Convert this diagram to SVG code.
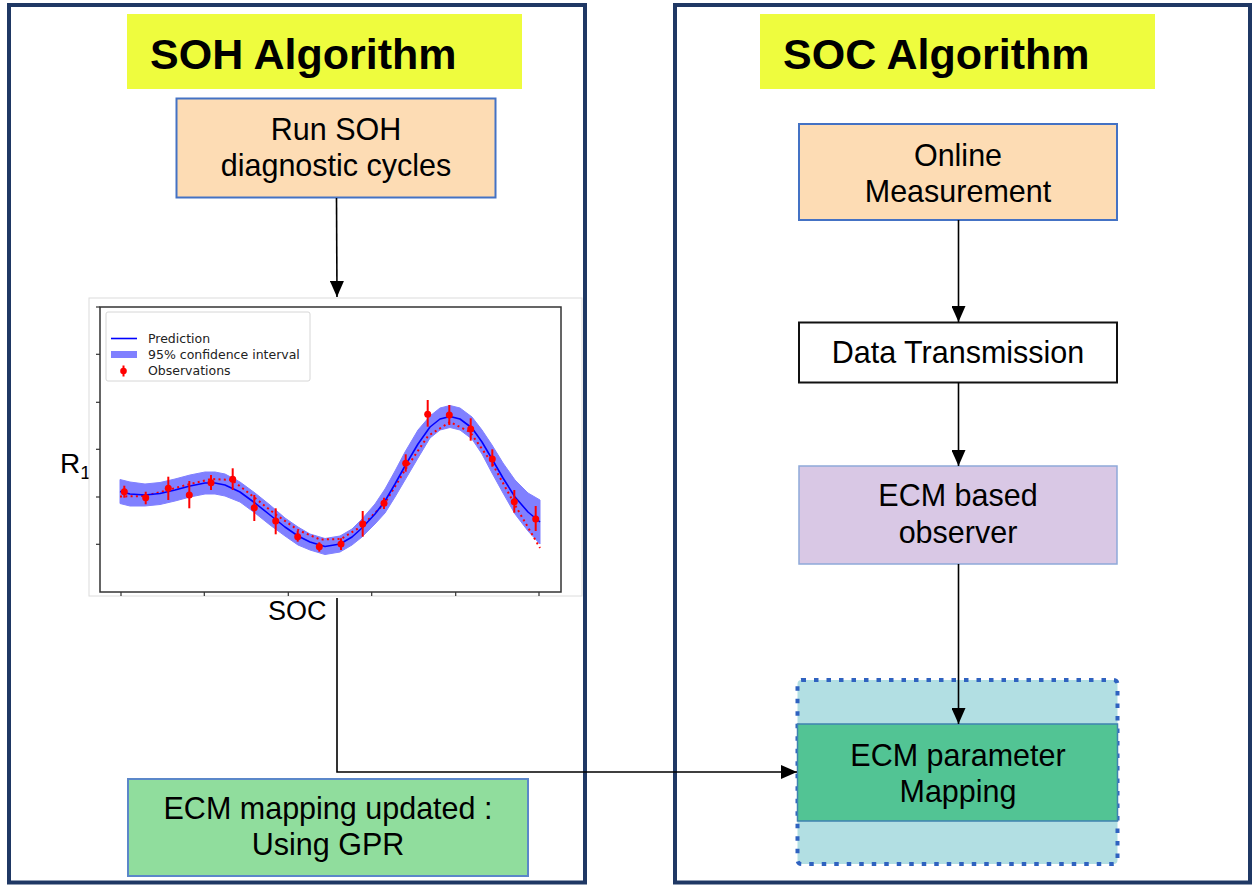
<svg xmlns="http://www.w3.org/2000/svg" width="1252" height="885" viewBox="0 0 1252 885">
  <defs>
    <marker id="arrow" markerUnits="userSpaceOnUse" markerWidth="16" markerHeight="14" refX="16" refY="7" orient="auto">
      <path d="M0,0 L16,7 L0,14 z" fill="#000"/>
    </marker>
    <style>
      .panel { fill: #ffffff; stroke: #1f3864; stroke-width: 4; }
      .title-bg { fill: #eefc3e; }
      .title { font-family: "Liberation Sans", Arial, sans-serif; font-weight: bold; font-size: 43px; fill: #000; }
      .lbl { font-family: "Liberation Sans", Arial, sans-serif; font-size: 30.5px; fill: #000; text-anchor: middle; }
      .peach { fill: #fddcb4; stroke: #4472c4; stroke-width: 2; }
      .plain { fill: #ffffff; stroke: #111; stroke-width: 2; }
      .lavender { fill: #d9c8e5; stroke: #8ea9d9; stroke-width: 1.5; }
      .green { fill: #90dd9d; stroke: #5b87c9; stroke-width: 2; }
      .conn { fill: none; stroke: #000; stroke-width: 1.6; }
      .spine { fill: none; stroke: #333; stroke-width: 1.5; }
      .tick { stroke: #333; stroke-width: 1.2; }
      .leg { font-family: "DejaVu Sans", sans-serif; font-size: 12.5px; fill: #222; }
      .err { stroke: #ff0000; stroke-width: 2; }
      .obs { fill: #ff0000; }
    </style>
  </defs>

  <!-- Panels -->
  <g id="soh-panel">
    <rect class="panel" x="9" y="5" width="576" height="877.5"/>
    <rect class="title-bg" x="127" y="14" width="395" height="75"/>
    <text class="title" x="150" y="69">SOH Algorithm</text>
  </g>
  <g id="soc-panel">
    <rect class="panel" x="675" y="5" width="575" height="877.5"/>
    <rect class="title-bg" x="760" y="14" width="395" height="75"/>
    <text class="title" x="783" y="69">SOC Algorithm</text>
  </g>

  <!-- SOH side nodes -->
  <g id="run-soh">
    <rect class="peach" x="176.5" y="98.5" width="319" height="99"/>
    <text class="lbl" x="336" y="140">Run SOH</text>
    <text class="lbl" x="336" y="176">diagnostic cycles</text>
  </g>

  <g id="gpr-plot">
    <text font-family="Liberation Sans, Arial, sans-serif" font-size="28" x="60" y="473">R<tspan font-size="19" dy="6">1</tspan></text>
    <rect x="89" y="298" width="493" height="298" fill="#ffffff" stroke="#dcdcdc" stroke-width="1"/>
    <!-- axes -->
    <rect class="spine" x="100" y="307" width="461" height="285"/>
    <g class="tick">
      <line x1="96" y1="307" x2="100" y2="307"/>
      <line x1="96" y1="354.3" x2="100" y2="354.3"/>
      <line x1="96" y1="402.3" x2="100" y2="402.3"/>
      <line x1="96" y1="449.3" x2="100" y2="449.3"/>
      <line x1="96" y1="497" x2="100" y2="497"/>
      <line x1="96" y1="544.3" x2="100" y2="544.3"/>
      <line x1="121" y1="592" x2="121" y2="596"/>
      <line x1="204.3" y1="592" x2="204.3" y2="596"/>
      <line x1="288.3" y1="592" x2="288.3" y2="596"/>
      <line x1="371.7" y1="592" x2="371.7" y2="596"/>
      <line x1="455.7" y1="592" x2="455.7" y2="596"/>
      <line x1="539" y1="592" x2="539" y2="596"/>
    </g>
    <!-- 95% confidence band -->
    <polygon fill="#8080ff" stroke="#8080ff" stroke-width="1" stroke-linejoin="round" points="120,479.5 130,482 145,484 160,482.5 175,479 190,475 205,472 215,472 225,474 240,482 255,493 270,505 285,518 298,527 310,534 325,538.5 340,536 352,529 362,519 375,504 385,489 395,471 405,452 418,430 430,416 440,408 450,405.5 460,408 472,417 482,430 492,445 503,463 515,480 528,493 540,500 540,544 528,531 515,514 503,493 492,473 482,454 472,439 460,430 450,427.5 440,430 430,438 418,458 405,480 395,497 385,513 375,524 362,537 352,545 340,552 325,554.5 310,550 298,545 285,536 270,525 255,513 240,502 225,496 215,494 205,494 190,497 175,501 160,504.5 145,506 130,506 120,503.5"/>
    <!-- true function (dotted) -->
    <polyline fill="none" stroke="#ff0000" stroke-width="2" stroke-dasharray="2 3.3" stroke-linejoin="round" points="120,496.5 145,496 168,490 190,484 211,479 232,480 255,498 275,514 298,530 320,539.5 341,539 362,526 385,503 405,470 428,436 450,422 470,432 492,463 515,505 540,548"/>
    <!-- prediction mean -->
    <polyline fill="none" stroke="#0000ff" stroke-width="1.6" stroke-linejoin="round" points="120,491.5 130,494 145,495 160,493.5 175,490 190,486 205,483 215,483 225,485 240,492 255,503 270,515 285,527 298,536 310,542 325,546.5 340,544 352,537 362,528 375,514 385,501 395,484 405,466 418,444 430,427 440,419 450,416.5 460,419 472,428 482,442 492,459 503,478 515,497 528,512 540,522"/>
    <!-- observations with error bars -->
    <g class="err">
      <line x1="124.3" y1="485.7" x2="124.3" y2="497.7"/>
      <line x1="145.7" y1="491.7" x2="145.7" y2="504.3"/>
      <line x1="168.3" y1="476.7" x2="168.3" y2="500"/>
      <line x1="189.3" y1="481" x2="189.3" y2="508.3"/>
      <line x1="211" y1="475" x2="211" y2="490"/>
      <line x1="232.7" y1="468.3" x2="232.7" y2="490"/>
      <line x1="254.3" y1="495" x2="254.3" y2="521"/>
      <line x1="275.7" y1="508.3" x2="275.7" y2="534.3"/>
      <line x1="297.7" y1="531" x2="297.7" y2="541.7"/>
      <line x1="319.3" y1="542.3" x2="319.3" y2="551.7"/>
      <line x1="341" y1="538.3" x2="341" y2="550"/>
      <line x1="362.7" y1="511" x2="362.7" y2="536.7"/>
      <line x1="384" y1="497.7" x2="384" y2="509"/>
      <line x1="405.7" y1="454.3" x2="405.7" y2="471.7"/>
      <line x1="427.7" y1="400" x2="427.7" y2="426.7"/>
      <line x1="449.3" y1="405" x2="449.3" y2="425"/>
      <line x1="470.7" y1="418.3" x2="470.7" y2="440.7"/>
      <line x1="492.3" y1="449.3" x2="492.3" y2="466.7"/>
      <line x1="514.3" y1="490" x2="514.3" y2="512.7"/>
      <line x1="535.7" y1="506" x2="535.7" y2="531"/>
    </g>
    <g class="obs">
      <circle cx="124.3" cy="491.7" r="3.5"/>
      <circle cx="145.7" cy="497.7" r="3.5"/>
      <circle cx="168.3" cy="488.3" r="3.5"/>
      <circle cx="189.3" cy="495" r="3.5"/>
      <circle cx="211" cy="482.7" r="3.5"/>
      <circle cx="232.7" cy="479.3" r="3.5"/>
      <circle cx="254.3" cy="507.7" r="3.5"/>
      <circle cx="275.7" cy="521" r="3.5"/>
      <circle cx="297.7" cy="536.7" r="3.5"/>
      <circle cx="319.3" cy="546.7" r="3.5"/>
      <circle cx="341" cy="544" r="3.5"/>
      <circle cx="362.7" cy="524" r="3.5"/>
      <circle cx="384" cy="503.3" r="3.5"/>
      <circle cx="405.7" cy="463.3" r="3.5"/>
      <circle cx="427.7" cy="414.3" r="3.5"/>
      <circle cx="449.3" cy="415" r="3.5"/>
      <circle cx="470.7" cy="429" r="3.5"/>
      <circle cx="492.3" cy="459" r="3.5"/>
      <circle cx="514.3" cy="501.7" r="3.5"/>
      <circle cx="535.7" cy="519" r="3.5"/>
    </g>
    <!-- legend -->
    <rect x="106" y="312" width="204" height="69" rx="2" fill="#ffffff" stroke="#d6d6d6" stroke-width="1"/>
    <line x1="111" y1="338.5" x2="137" y2="338.5" stroke="#0000ff" stroke-width="1.6"/>
    <rect x="111" y="351" width="26" height="7" fill="#8080ff"/>
    <line class="err" x1="123.5" y1="365.5" x2="123.5" y2="376.5"/>
    <circle class="obs" cx="123.5" cy="371" r="3.3"/>
    <text class="leg" x="148" y="342.5">Prediction</text>
    <text class="leg" x="148" y="358.5">95% confidence interval</text>
    <text class="leg" x="148" y="375">Observations</text>
    <text font-family="Liberation Sans, Arial, sans-serif" font-size="27" x="268" y="620">SOC</text>
  </g>

  <g id="gpr-update">
    <rect class="green" x="128" y="779" width="400" height="97"/>
    <text class="lbl" x="328" y="819">ECM mapping updated :</text>
    <text class="lbl" x="328" y="855">Using GPR</text>
  </g>

  <!-- SOC side nodes -->
  <g id="online-measurement">
    <rect class="peach" x="799" y="124" width="318" height="96"/>
    <text class="lbl" x="958" y="166">Online</text>
    <text class="lbl" x="958" y="202">Measurement</text>
  </g>
  <g id="data-transmission">
    <rect class="plain" x="799" y="322.5" width="318" height="60"/>
    <text class="lbl" x="958" y="363">Data Transmission</text>
  </g>
  <g id="ecm-observer">
    <rect class="lavender" x="799" y="466" width="318" height="98"/>
    <text class="lbl" x="958" y="506">ECM based</text>
    <text class="lbl" x="958" y="543">observer</text>
  </g>
  <g id="ecm-parameter-mapping">
    <rect x="797.5" y="680" width="320" height="184" rx="4" fill="#b2dfe3" stroke="#2f62c0" stroke-width="4" stroke-dasharray="4.5 8"/>
    <rect x="797.5" y="724" width="320" height="97" fill="#52c494" stroke="#3f82b0" stroke-width="1.5"/>
    <text class="lbl" x="958" y="766">ECM parameter</text>
    <text class="lbl" x="958" y="802">Mapping</text>
  </g>

  <!-- Connectors -->
  <g id="connectors">
    <path class="conn" d="M336.5,198 L337,297" marker-end="url(#arrow)"/>
    <path class="conn" d="M337,598 L337,772 L797,772" marker-end="url(#arrow)"/>
    <path class="conn" d="M958.5,220 L958.5,322" marker-end="url(#arrow)"/>
    <path class="conn" d="M958.5,382.5 L958.5,466" marker-end="url(#arrow)"/>
    <path class="conn" d="M958.5,564 L958.5,724" marker-end="url(#arrow)"/>
  </g>
</svg>
